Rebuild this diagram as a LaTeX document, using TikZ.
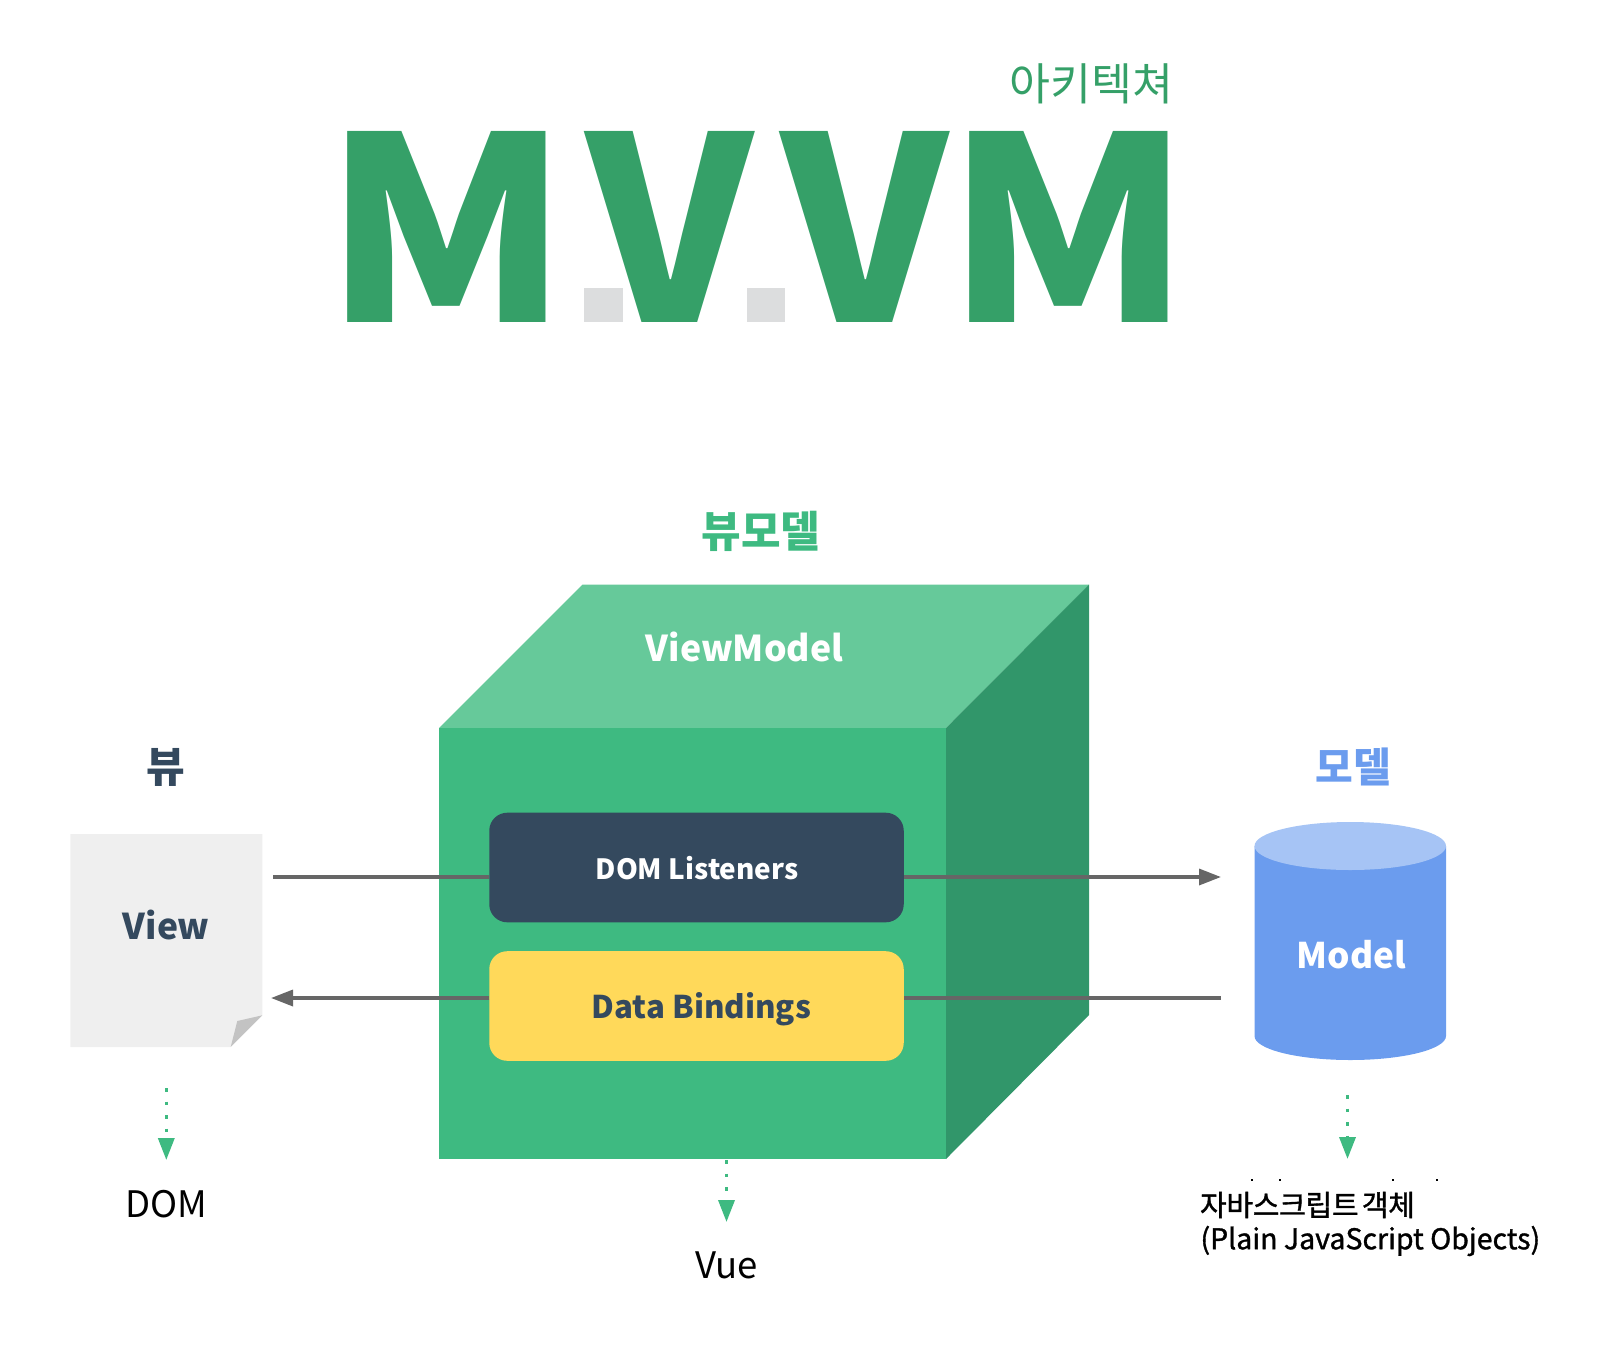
\documentclass[tikz,border=0pt]{standalone}
\usepackage{fontspec}
\setmainfont{Noto Sans CJK KR}
\usetikzlibrary{arrows.meta}
\definecolor{cubefront}{HTML}{3EBA81}
\definecolor{cubetop}{HTML}{66C99A}
\definecolor{cuberight}{HTML}{31966A}
\definecolor{titlegreen}{HTML}{35A068}
\definecolor{dotgray}{HTML}{DCDDDE}
\definecolor{paper}{HTML}{EFEFEF}
\definecolor{fold}{HTML}{C3C3C3}
\definecolor{navy}{HTML}{34495E}
\definecolor{butter}{HTML}{FFD95A}
\definecolor{cylblue}{HTML}{6B9CEE}
\definecolor{cyltop}{HTML}{A6C4F5}
\definecolor{wire}{HTML}{666666}
\newcommand{\fs}[1]{\fontsize{#1}{#1}\selectfont}
\tikzset{
  x=1pt,y=-1pt,
  lbl/.style={inner sep=0pt,outer sep=0pt},
  bigletter/.style={lbl,anchor=base,text=titlegreen,transform shape,font=\fs{256.5}\bfseries},
  innerbox/.style={rounded corners=18pt,minimum width=414.5pt,minimum height=109.6pt,inner sep=0pt,outer sep=0pt},
  flow/.style={draw=wire,line width=3.4pt},
  flowhead/.style={flow,-{Triangle[length=22pt,width=16pt,fill=wire]}},
  dotflow/.style={draw=cubefront,line width=3.5pt,dash pattern=on 3.5pt off 10pt,-{Triangle[length=22pt,width=16pt,fill=cubefront]}},
}
\begin{document}
\begin{tikzpicture}
\useasboundingbox (0,0) rectangle (1608,1346);
% title
\fill[dotgray] (583.5,288) rectangle (622.5,322);
\fill[dotgray] (746.5,288) rectangle (784.5,322);
\node[bigletter,xscale=1.095] (m1) at (447,322) {M};
\node[bigletter,xscale=1.01] (v1) at (670,322) {V};
\node[bigletter,xscale=1.01] (v2) at (865,322) {V};
\node[bigletter,xscale=1.095] (m2) at (1068.5,322) {M};
\node[lbl,anchor=east,text=titlegreen,font=\fs{44.5}] (arch) at (1173,84) {아키텍쳐};
\node[lbl,text=cubefront,font=\fs{43}\bfseries] (vmk) at (761,531) {뷰모델};
% cube
\fill[cubetop] (439,728) -- (582.5,584.5) -- (1089,584.5) -- (946,728) -- cycle;
\fill[cuberight] (946,728) -- (1089,584.5) -- (1089,1015) -- (946,1159) -- cycle;
\fill[cubefront] (439,728) rectangle (946,1159);
\node[lbl,text=white,font=\fs{35.6}\bfseries] (vm) at (744.5,647) {ViewModel};
% inner boxes
\node[innerbox,fill=navy] (dom) at (696.5,867.5) {};
\node[lbl,text=white,font=\fs{27.9}\bfseries] (domt) at (697,868.5) {DOM Listeners};
\node[innerbox,fill=butter] (data) at (696.5,1006) {};
\node[lbl,text=navy,font=\fs{31.3}\bfseries] (datat) at (701.5,1009) {Data Bindings};
% view
\fill[paper] (70.3,834) -- (262.3,834) -- (262.3,1015.3) -- (230.7,1047) -- (70.3,1047) -- cycle;
\fill[fold] (262.3,1015.3) -- (237.3,1021) -- (230.7,1047) -- cycle;
\node[lbl,text=navy,font=\fs{35.5}\bfseries] (view) at (166.3,925) {View};
\node[lbl,text=navy,font=\fs{42}\bfseries] (viewk) at (166,767) {뷰};
% model
\fill[cylblue] (1254.5,846) -- (1254.5,1036) arc[start angle=180,end angle=0,x radius=95.75,y radius=24] -- (1446,846) -- cycle;
\fill[cyltop] (1350.25,846) ellipse[x radius=95.75,y radius=24];
\node[lbl,text=white,font=\fs{35.3}\bfseries] (model) at (1351.6,955) {Model};
\node[lbl,text=cylblue,font=\fs{41}\bfseries] (modelk) at (1353,766.5) {모델};
% connectors
\coordinate (viewout) at (273,877);
\coordinate (viewin) at (271,998);
\coordinate (modelin) at (1221,877);
\coordinate (modelout) at (1221,998);
\draw[flow] (viewout) -- (viewout -| dom.west);
\draw[flowhead] (viewout -| dom.east) -- (modelin);
\draw[flow] (modelout) -- (modelout -| data.east);
\draw[flowhead] (viewin -| data.west) -- (viewin);
% dotted arrows
\coordinate (d1a) at (166.3,1088);
\coordinate (d1b) at (166.3,1160);
\coordinate (d2a) at (726.5,1160);
\coordinate (d2b) at (726.5,1222);
\coordinate (d3a) at (1347.5,1095);
\coordinate (d3b) at (1347.5,1159);
\draw[dotflow] (d1a) -- (d1b);
\draw[dotflow] (d2a) -- (d2b);
\draw[dotflow] (d3a) -- (d3b);
% bottom labels
\node[lbl,font=\fs{36.5}] (domk) at (166.5,1204) {DOM};
\node[lbl,font=\fs{36.5}] (vue) at (726.5,1265.5) {Vue};
\fill (1251,1179) rectangle (1253,1181);
\fill (1279,1179) rectangle (1281,1181);
\fill (1392,1179) rectangle (1394,1181);
\fill (1436,1179) rectangle (1438,1181);
\node[lbl,anchor=west,font=\fs{29}\addfontfeature{FakeBold=1.2,LetterSpace=-1}] (jsk) at (1200,1205) {자바스크립트\hspace{-3pt} 객체};
\node[lbl,anchor=west,font=\fs{28.5}\addfontfeature{FakeBold=1.2}] (jse) at (1200.5,1241) {(Plain JavaScript Objects)};
\end{tikzpicture}
\end{document}
